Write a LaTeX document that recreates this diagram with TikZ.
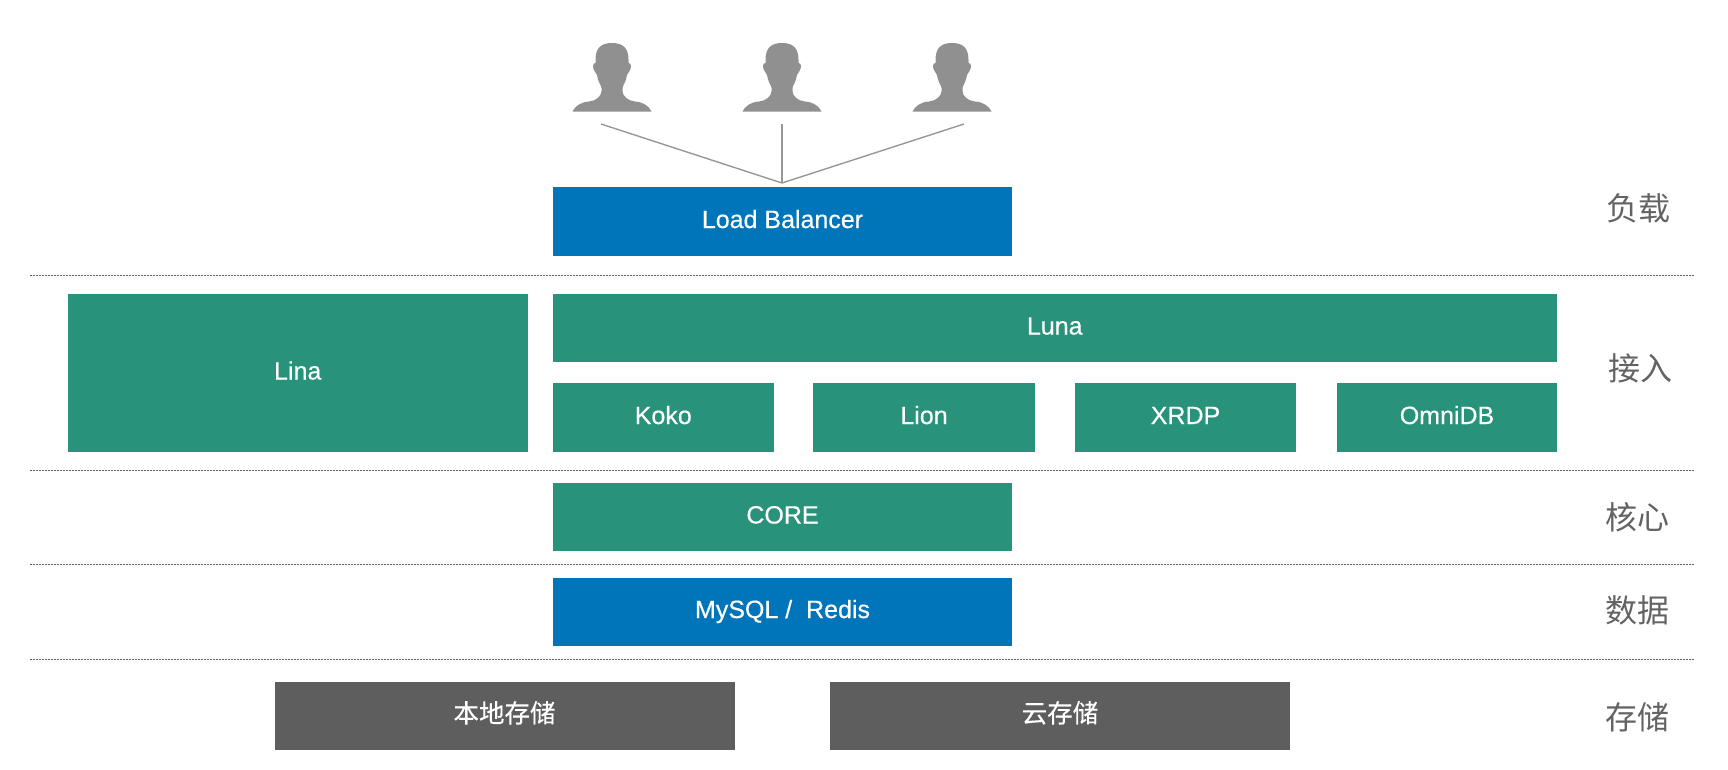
\documentclass[tikz,border=0pt]{standalone}
\usepackage{fontspec}
\setmainfont{Liberation Sans}
\newfontfamily\medfont[FakeBold=0.35]{Liberation Sans}
\newfontfamily\cjkfont{Noto Sans CJK SC}
\newfontfamily\cjkmed[FakeBold=0.3]{Noto Sans CJK SC}
\definecolor{bluebox}{HTML}{0075BA}
\definecolor{greenbox}{HTML}{28937A}
\definecolor{graybox}{HTML}{5E5E5E}
\definecolor{persongray}{HTML}{909090}
\definecolor{linegray}{HTML}{979797}
\definecolor{labelgray}{HTML}{636363}
\tikzset{
  px/.style={x=1pt,y=-1pt},
  boxbase/.style={anchor=center,inner sep=0pt,outer sep=0pt,text=white,text height=18pt,text depth=5pt},
  latin/.style={font=\fontsize{25}{28}\selectfont\medfont},
  cjkin/.style={font=\fontsize{25.5}{28}\selectfont\cjkmed},
  layerlabel/.style={anchor=center,inner sep=0pt,text=labelgray,font=\fontsize{32}{36}\selectfont\cjkfont},
  sepline/.style={draw=labelgray,line width=1.5pt,dash pattern=on 1.5pt off 1.5pt},
  link/.style={draw=linegray,line width=1.4pt},
  pics/person/.style={code={
    \fill[persongray]
      (0,0) .. controls (-11,0) and (-16.5,5) .. (-16.5,17)
      -- (-16.5,20) .. controls (-18,20) and (-19,21) .. (-19,23)
      .. controls (-19,27) and (-16,30) .. (-15,32)
      .. controls (-14,39) and (-11,42) .. (-10.5,45)
      -- (-10.5,48) .. controls (-10.5,53) and (-16,58) .. (-23,58.5)
      .. controls (-31,59) and (-37,63) .. (-39.5,68.5)
      -- (39.5,68.5)
      .. controls (37,63) and (31,59) .. (23,58.5)
      .. controls (16,58) and (10.5,53) .. (10.5,48)
      -- (10.5,45) .. controls (11,42) and (14,39) .. (15,32)
      .. controls (16,30) and (19,27) .. (19,23)
      .. controls (19,21) and (18,20) .. (16.5,20)
      -- (16.5,17) .. controls (16.5,5) and (11,0) .. (0,0) -- cycle;
  }}
}
\begin{document}
\begin{tikzpicture}[px]
\useasboundingbox (0,0) rectangle (1728,769);
% separators
\foreach \n/\y in {s1/275.5,s2/470.5,s3/564.5,s4/659.5}{
  \coordinate (\n a) at (30,\y);
  \coordinate (\n b) at (1695,\y);
  \draw[sepline] (\n a) -- (\n b);
}
% people
\pic at (612,43) {person};
\pic at (782,43) {person};
\pic at (952,43) {person};
\coordinate (u1) at (601,124);
\coordinate (u2) at (782,124);
\coordinate (u3) at (964,124);
\coordinate (join) at (782,183);
\draw[link] (u1) -- (join);
\draw[link] (u2) -- (join);
\draw[link] (u3) -- (join);
% boxes
\node[boxbase,fill=bluebox,minimum width=459.5pt,minimum height=69pt,latin] (lb) at (782.5,221.5) {Load Balancer};
\node[boxbase,fill=greenbox,minimum width=460.5pt,minimum height=158pt,latin] (lina) at (297.75,373) {Lina};
\node[boxbase,fill=greenbox,minimum width=1004.5pt,minimum height=68pt,latin] (luna) at (1054.75,328) {Luna};
\node[boxbase,fill=greenbox,minimum width=221.5pt,minimum height=69pt,latin] (koko) at (663.25,417.5) {Koko};
\node[boxbase,fill=greenbox,minimum width=221.5pt,minimum height=69pt,latin] (lion) at (924,417.5) {Lion};
\node[boxbase,fill=greenbox,minimum width=221.5pt,minimum height=69pt,latin] (xrdp) at (1185.5,417.5) {XRDP};
\node[boxbase,fill=greenbox,minimum width=220pt,minimum height=69pt,latin] (omni) at (1447,417.5) {OmniDB};
\node[boxbase,fill=greenbox,minimum width=459.5pt,minimum height=68pt,latin] (core) at (782.5,517) {CORE};
\node[boxbase,fill=bluebox,minimum width=459.5pt,minimum height=68pt,latin] (mysql) at (782.5,611.5) {MySQL /\ \ Redis};
\node[boxbase,fill=graybox,minimum width=460pt,minimum height=68.5pt,cjkin] (local) at (504.5,716) {本地存储};
\node[boxbase,fill=graybox,minimum width=460pt,minimum height=68.5pt,cjkin] (cloud) at (1060,716) {云存储};
% layer labels
\node[layerlabel] (l1) at (1638,208) {负载};
\node[layerlabel] (l2) at (1640,368) {接入};
\node[layerlabel] (l3) at (1637,517) {核心};
\node[layerlabel] (l4) at (1637,610) {数据};
\node[layerlabel] (l5) at (1637,717) {存储};
\end{tikzpicture}
\end{document}
